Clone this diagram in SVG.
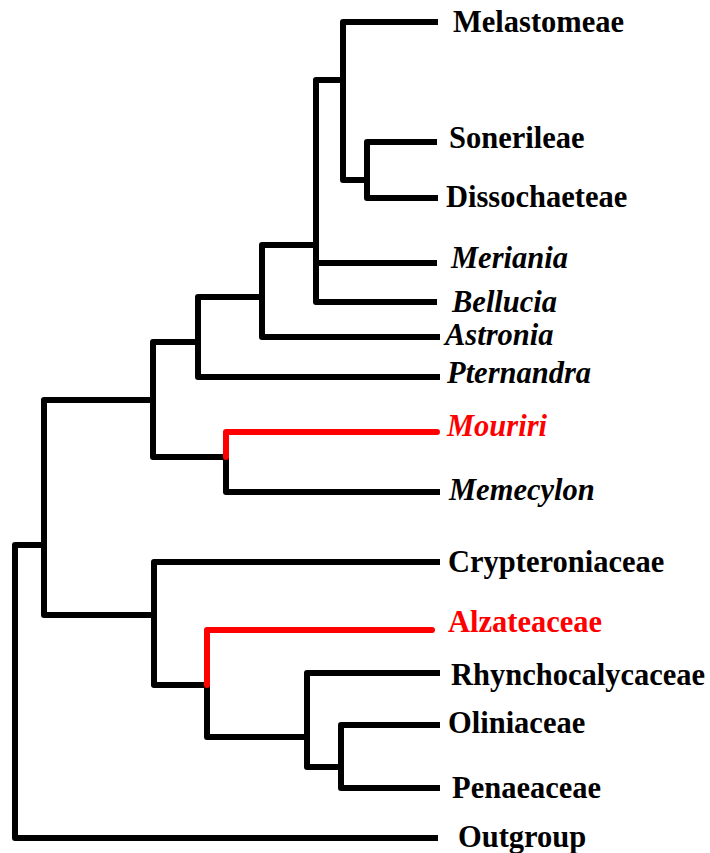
<svg xmlns="http://www.w3.org/2000/svg" width="710" height="853" viewBox="0 0 710 853">
<style>
.e{fill:none;stroke:#000;stroke-width:6;stroke-linejoin:round;stroke-linecap:butt}
.r{fill:none;stroke:#f00;stroke-width:6;stroke-linejoin:round;stroke-linecap:round}
text{font-family:"Liberation Serif","Times New Roman",serif;font-weight:bold;font-size:30.5px;fill:#000}
.i{font-style:italic}
.red{fill:#f00}
</style>
<rect width="710" height="853" fill="#fff"/>
<g id="connectors">
<path class="e" d="M438,22 H343 V180 H367"/>
<path class="e" d="M437,142 H367 V198 H438"/>
<path class="e" d="M343,80 H316 V302 H437"/>
<path class="e" d="M316,263 H437"/>
<path class="e" d="M316,245 H262 V337 H440"/>
<path class="e" d="M262,297 H198 V377 H440"/>
<path class="e" d="M198,342 H153 V457 H226 V492 H440"/>
<path class="r" d="M226,457 V432 H437"/>
<path class="e" d="M153,400 H44 V615 H154"/>
<path class="e" d="M44,545 H15 V838 H438"/>
<path class="e" d="M440,562 H154 V685 H207 V737 H307"/>
<path class="r" d="M207,685 V630 H432"/>
<path class="e" d="M440,673 H307 V767 H341"/>
<path class="e" d="M440,725 H341 V788 H440"/>
</g>
<g id="Melastomeae"><text x="453" y="32">Melastomeae</text></g>
<g id="Sonerileae"><text x="449" y="148">Sonerileae</text></g>
<g id="Dissochaeteae"><text x="446" y="207">Dissochaeteae</text></g>
<g id="Meriania"><text class="i" x="451" y="268">Meriania</text></g>
<g id="Bellucia"><text class="i" x="452" y="312">Bellucia</text></g>
<g id="Astronia"><text class="i" x="445" y="345">Astronia</text></g>
<g id="Pternandra"><text class="i" x="447" y="383">Pternandra</text></g>
<g id="Mouriri"><text class="i red" x="447" y="436">Mouriri</text></g>
<g id="Memecylon"><text class="i" x="449" y="500">Memecylon</text></g>
<g id="Crypteroniaceae"><text x="448" y="572">Crypteroniaceae</text></g>
<g id="Alzateaceae"><text class="red" x="448" y="632">Alzateaceae</text></g>
<g id="Rhynchocalycaceae"><text x="451" y="685">Rhynchocalycaceae</text></g>
<g id="Oliniaceae"><text x="448" y="733">Oliniaceae</text></g>
<g id="Penaeaceae"><text x="452" y="798">Penaeaceae</text></g>
<g id="Outgroup"><text x="458" y="847">Outgroup</text></g>
</svg>
